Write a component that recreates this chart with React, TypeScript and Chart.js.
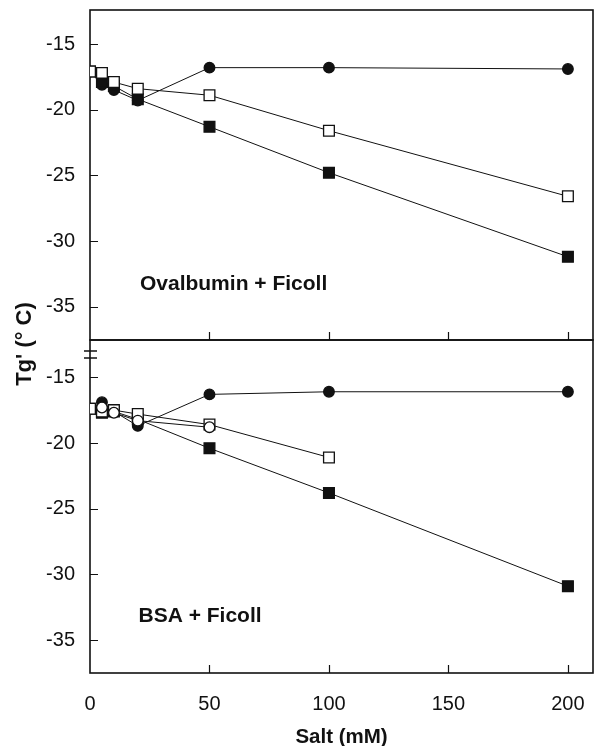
import React, { useEffect, useRef } from 'react';
import { Chart, registerables } from 'chart.js';

Chart.register(...registerables);

// ---- data ----
const xTicks = [0, 50, 100, 150, 200];
const yTicks = [-15, -20, -25, -30, -35];

// Ovalbumin + Ficoll (top panel)
const ovaSalt = [0, 5, 10, 20, 50, 100, 200];
const ovaFilledCircle = [-17.1, -18.1, -18.5, -19.3, -16.8, -16.8, -16.9];
const ovaFilledSquare = [-17.1, -17.9, -18.2, -19.2, -21.3, -24.8, -31.2];
const ovaOpenSquare = [-17.1, -17.2, -17.9, -18.4, -18.9, -21.6, -26.6];

// BSA + Ficoll (bottom panel)
const bsaSalt = [0, 5, 10, 20, 50, 100, 200];
const bsaFilledCircle = [-17.4, -16.9, -17.6, -18.7, -16.3, -16.1, -16.1];
const bsaFilledSquare = [-17.4, -17.7, -17.6, -18.2, -20.4, -23.8, -30.9];
const bsaOpenSquareSalt = [0, 5, 10, 20, 50, 100];
const bsaOpenSquare = [-17.4, -17.6, -17.5, -17.8, -18.6, -21.1];
const bsaOpenCircleSalt = [5, 10, 20, 50];
const bsaOpenCircle = [-17.3, -17.7, -18.3, -18.8];

const topLabel = 'Ovalbumin + Ficoll';
const bottomLabel = 'BSA + Ficoll';
const yTitle = "Tg' (° C)";
const xTitle = 'Salt (mM)';

const FONT = '"Liberation Sans", Arial, Helvetica, sans-serif';
const INK = '#111';

const pts = (xs: number[], ys: number[]) => xs.map((x, i) => ({ x, y: ys[i] }));

const mk = (data: any[], yAxisID: string, style: 'circle' | 'rect', filled: boolean) => ({
  data,
  yAxisID,
  showLine: true,
  borderColor: INK,
  borderWidth: 1,
  pointStyle: style,
  pointRadius: style === 'rect' ? 7.6 : 5.3,
  pointBorderWidth: 1.3,
  pointBorderColor: INK,
  pointBackgroundColor: filled ? INK : '#fff',
  fill: false,
  tension: 0,
});

const zeroPad = (s: any) => {
  s.paddingTop = 0;
  s.paddingBottom = 0;
  s.paddingLeft = 0;
  s.paddingRight = 0;
};

const framePlugin = {
  id: 'frame',
  beforeDatasetsDraw(chart: any) {
    const { ctx } = chart;
    const xs = chart.scales.x;
    const panels = [chart.scales.yTop, chart.scales.yBot];
    ctx.save();
    ctx.strokeStyle = INK;
    for (const p of panels) {
      ctx.lineWidth = 1.6;
      ctx.strokeRect(xs.left, p.top, xs.right - xs.left, p.bottom - p.top);
      ctx.beginPath();
      for (const v of yTicks) {
        const py = Math.round(p.getPixelForValue(v)) + 0.5;
        ctx.moveTo(xs.left, py);
        ctx.lineTo(xs.left + 8, py);
      }
      for (const v of xTicks) {
        if (v === 0) continue;
        const px = Math.round(xs.getPixelForValue(v)) + 0.5;
        ctx.moveTo(px, p.bottom);
        ctx.lineTo(px, p.bottom - 8);
      }
      ctx.lineWidth = 1.2;
      ctx.stroke();
    }
    // axis break marks
    const b = chart.scales.yBot;
    ctx.beginPath();
    ctx.lineWidth = 1.6;
    ctx.moveTo(xs.left - 6, b.top + 11);
    ctx.lineTo(xs.left + 7, b.top + 11);
    ctx.moveTo(xs.left - 6, b.top + 18);
    ctx.lineTo(xs.left + 7, b.top + 18);
    ctx.stroke();
    ctx.restore();
  },
  afterDraw(chart: any) {
    const { ctx } = chart;
    const xs = chart.scales.x;
    const t = chart.scales.yTop;
    const b = chart.scales.yBot;
    ctx.save();
    ctx.fillStyle = INK;
    ctx.font = `bold 21px ${FONT}`;
    ctx.textBaseline = 'middle';
    ctx.textAlign = 'left';
    ctx.fillText(topLabel, xs.getPixelForValue(20.9), t.getPixelForValue(-33.3));
    ctx.fillText(bottomLabel, xs.getPixelForValue(20.3), b.getPixelForValue(-33.2));
    // y title spanning both panels
    ctx.font = `bold 22px ${FONT}`;
    ctx.translate(25, 344);
    ctx.rotate(-Math.PI / 2);
    ctx.textAlign = 'center';
    ctx.fillText(yTitle, 0, 0);
    ctx.restore();
  },
};

const yScale = (min: number, max: number, weight: number, stackWeight: number) => ({
  type: 'linear',
  position: 'left',
  stack: 'tg',
  stackWeight,
  weight,
  min,
  max,
  afterBuildTicks: (s: any) => {
    s.ticks = yTicks.map((v) => ({ value: v }));
  },
  afterFit: (s: any) => {
    s.width = 90;
    zeroPad(s);
  },
  grid: { display: false, drawTicks: false },
  border: { display: false },
  ticks: {
    padding: 15,
    color: INK,
    font: { size: 20, family: FONT },
  },
});

export default function App() {
  const ref = useRef<HTMLCanvasElement | null>(null);

  useEffect(() => {
    if (!ref.current) return;
    const chart = new Chart(ref.current, {
      type: 'scatter',
      data: {
        datasets: [
          mk(pts(ovaSalt, ovaOpenSquare), 'yTop', 'rect', false),
          mk(pts(ovaSalt, ovaFilledSquare), 'yTop', 'rect', true),
          mk(pts(ovaSalt, ovaFilledCircle), 'yTop', 'circle', true),
          mk(pts(bsaOpenCircleSalt, bsaOpenCircle), 'yBot', 'circle', false),
          mk(pts(bsaOpenSquareSalt, bsaOpenSquare), 'yBot', 'rect', false),
          mk(pts(bsaSalt, bsaFilledSquare), 'yBot', 'rect', true),
          mk(pts(bsaSalt, bsaFilledCircle), 'yBot', 'circle', true),
        ] as any,
      },
      options: {
        animation: false,
        responsive: false,
        devicePixelRatio: 1,
        layout: { autoPadding: false, padding: { top: 10, right: 3, left: 0, bottom: 0 } },
        plugins: {
          legend: { display: false },
          tooltip: { enabled: false },
        },
        scales: {
          x: {
            type: 'linear',
            position: 'bottom',
            min: 0,
            max: 210.5,
            afterBuildTicks: (s: any) => {
              s.ticks = xTicks.map((v) => ({ value: v }));
            },
            afterFit: (s: any) => {
              s.height = 73;
              zeroPad(s);
            },
            grid: { display: false, drawTicks: false },
            border: { display: false },
            ticks: {
              padding: 19,
              color: INK,
              maxRotation: 0,
              font: { size: 20, family: FONT },
            },
            title: {
              display: true,
              text: xTitle,
              color: INK,
              padding: { top: 0, bottom: -2 },
              font: { size: 20.5, weight: 'bold', family: FONT, lineHeight: 1 },
            },
          },
          yBot: yScale(-37.51, -12.16, 1, 333),
          yTop: yScale(-37.54, -12.41, 2, 330),
        } as any,
      },
      plugins: [framePlugin],
    });
    return () => chart.destroy();
  }, []);

  return (
    <div style={{ position: 'absolute', left: 0, top: 0, width: 596, height: 746, background: '#fff' }}>
      <canvas ref={ref} width={596} height={746} style={{ display: 'block' }} />
    </div>
  );
}
